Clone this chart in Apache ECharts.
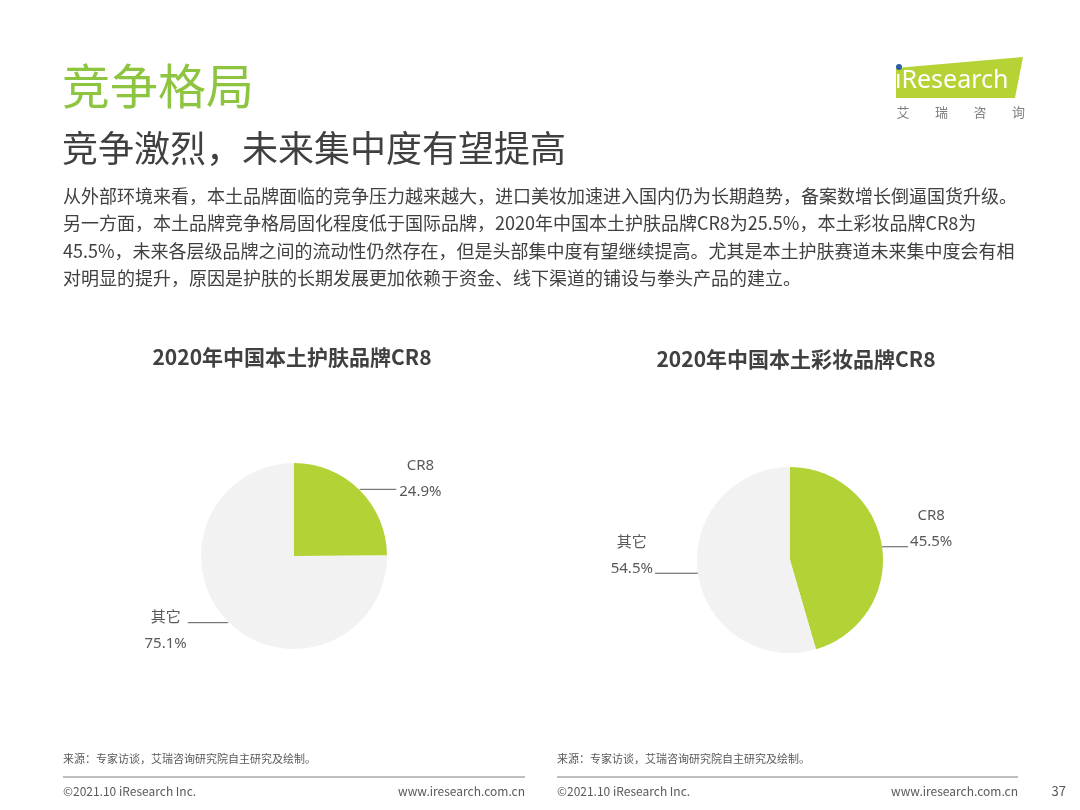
<!DOCTYPE html>
<html>
<head>
<meta charset="utf-8">
<script src="https://cdn.jsdelivr.net/npm/echarts@6/dist/echarts.min.js"></script>
<style>
html,body{margin:0;padding:0;background:#fff;}
#main{width:1080px;height:810px;}
</style>
</head>
<body>
<div id="main"></div>
<script>
// ---- data ----
const pieNames = ['CR8', '其它'];
const skincareValues = [24.9, 75.1];
const makeupValues = [45.5, 54.5];
const chartTitles = ['2020年中国本土护肤品牌CR8', '2020年中国本土彩妆品牌CR8'];
const pageTitle = '竞争格局';
const pageSubtitle = '竞争激烈，未来集中度有望提高';
const paragraphLines = [
  '从外部环境来看，本土品牌面临的竞争压力越来越大，进口美妆加速进入国内仍为长期趋势，备案数增长倒逼国货升级。',
  '另一方面，本土品牌竞争格局固化程度低于国际品牌，2020年中国本土护肤品牌CR8为25.5%，本土彩妆品牌CR8为',
  '45.5%，未来各层级品牌之间的流动性仍然存在，但是头部集中度有望继续提高。尤其是本土护肤赛道未来集中度会有相',
  '对明显的提升，原因是护肤的长期发展更加依赖于资金、线下渠道的铺设与拳头产品的建立。'
];
const sourceText = '来源：专家访谈，艾瑞咨询研究院自主研究及绘制。';
const copyrightText = '©2021.10 iResearch Inc.';
const siteText = 'www.iresearch.com.cn';
const pageNumber = '37';
const logoChars = ['艾', '瑞', '咨', '询'];

// ---- styles ----
const GREEN = '#b3d236';
const GREY = '#f2f2f2';
const FONT = '"Noto Sans CJK SC", "Noto Sans", sans-serif';
const LABEL_FONT = '"Noto Sans", "Noto Sans CJK SC", sans-serif';

const chart = echarts.init(document.getElementById('main'), null, {renderer: 'canvas'});

function labelRich() {
  return {
    n: {fontSize: 15, lineHeight: 26, color: '#595959', align: 'center', fontFamily: LABEL_FONT},
    v: {fontSize: 15, lineHeight: 26, color: '#595959', align: 'center', fontFamily: LABEL_FONT}
  };
}

function buildData(values, cfg) {
  return pieNames.map((name, i) => ({
    name: name,
    value: values[i],
    itemStyle: {color: i === 0 ? GREEN : GREY},
    label: {padding: cfg[i].padding, distanceToLabelLine: cfg[i].dist},
    labelLine: {length: 1, length2: cfg[i].len2}
  }));
}

const leftCfg = [
  {padding: [0, 0, 22, 0], dist: 3, len2: 36},
  {padding: [16, 0, 0, 0], dist: 1, len2: 40}
];
const rightCfg = [
  {padding: [0, 0, 36, 0], dist: 2, len2: 25},
  {padding: [0, 0, 36, 0], dist: 2, len2: 42}
];

function pieSeries(values, center, cfg) {
  return {
    type: 'pie',
    center: center,
    radius: 93,
    startAngle: 90,
    clockwise: true,
    avoidLabelOverlap: false,
    silent: true,
    animation: false,
    label: {
      show: true,
      position: 'outside',
      formatter: '{n|{b}}\n{v|{c}%}',
      rich: labelRich()
    },
    labelLine: {
      show: true,
      lineStyle: {color: '#595959', width: 1}
    },
    data: buildData(values, cfg)
  };
}

const graphics = [];
// page title
graphics.push({type: 'text', left: 62, top: 62, style: {text: pageTitle, font: '48px ' + FONT, fill: '#8dc540'}});
graphics.push({type: 'text', left: 62, top: 130, style: {text: pageSubtitle, font: '36px ' + FONT, fill: '#404040'}});
paragraphLines.forEach((t, i) => {
  graphics.push({type: 'text', x: 63, y: 196 + i * 27.5, style: {text: t, font: '18px ' + FONT, fill: '#404040', verticalAlign: 'middle'}});
});
// chart titles
graphics.push({type: 'text', x: 292, y: 357, style: {text: chartTitles[0], font: 'bold 21px ' + FONT, fill: '#404040', align: 'center', verticalAlign: 'middle'}});
graphics.push({type: 'text', x: 796, y: 359, style: {text: chartTitles[1], font: 'bold 21px ' + FONT, fill: '#404040', align: 'center', verticalAlign: 'middle'}});
// logo
graphics.push({type: 'polygon', shape: {points: [[896, 68], [1023, 57], [1015, 98], [896, 98]]}, style: {fill: '#b5d334'}});
graphics.push({type: 'circle', shape: {cx: 899, cy: 67, r: 3}, style: {fill: '#2d5fa6'}});
graphics.push({type: 'text', x: 895, y: 81, style: {text: 'ıResearch', font: '25px "Noto Sans", sans-serif', fill: '#ffffff', verticalAlign: 'middle'}});
logoChars.forEach((c, i) => {
  graphics.push({type: 'text', x: 903 + i * 38.5, y: 112, style: {text: c, font: '13px ' + FONT, fill: '#7f7f7f', align: 'center', verticalAlign: 'middle'}});
});
// footers
[[63, 525], [557, 1018]].forEach(([x0, x1]) => {
  graphics.push({type: 'text', x: x0, y: 759, style: {text: sourceText, font: '11px ' + FONT, fill: '#595959', verticalAlign: 'middle'}});
  graphics.push({type: 'line', shape: {x1: x0, y1: 777, x2: x1, y2: 777}, style: {stroke: '#7f7f7f', lineWidth: 1}});
  graphics.push({type: 'text', x: x0, y: 791, style: {text: copyrightText, font: '12px ' + FONT, fill: '#595959', verticalAlign: 'middle'}});
  graphics.push({type: 'text', x: x1, y: 791, style: {text: siteText, font: '12px ' + FONT, fill: '#595959', align: 'right', verticalAlign: 'middle'}});
});
graphics.push({type: 'text', x: 1066, y: 791, style: {text: pageNumber, font: '13px ' + FONT, fill: '#595959', align: 'right', verticalAlign: 'middle'}});

chart.setOption({
  backgroundColor: '#ffffff',
  animation: false,
  graphic: graphics,
  series: [
    pieSeries(skincareValues, [294, 556], leftCfg),
    pieSeries(makeupValues, [790, 560], rightCfg)
  ]
});
</script>
</body>
</html>
